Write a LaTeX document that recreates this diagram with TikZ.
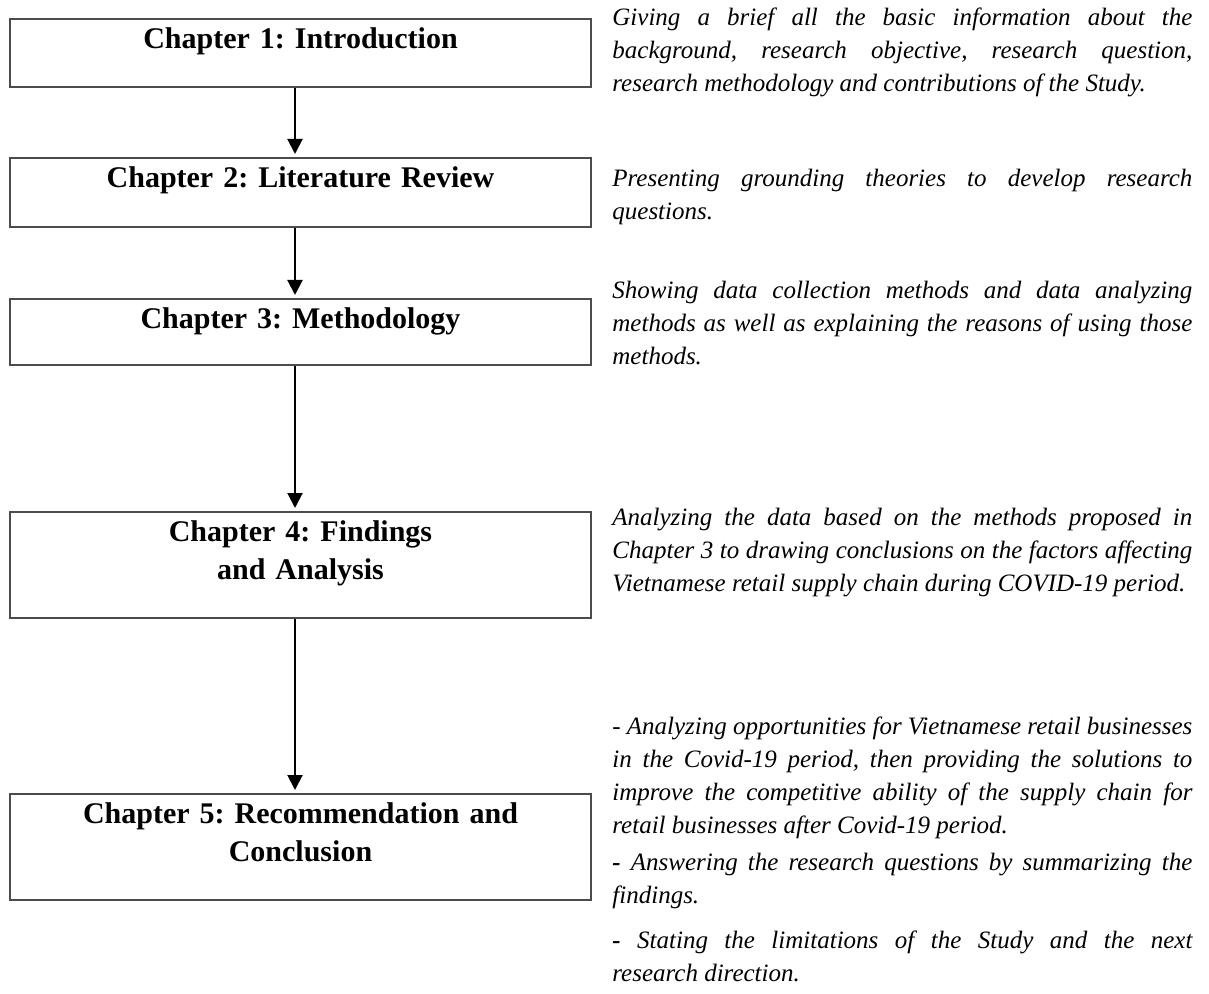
\documentclass[tikz,border=0pt]{standalone}
\usepackage{fontspec}
\setmainfont{Liberation Serif}
\usetikzlibrary{arrows.meta}
\frenchspacing

\tikzset{
  chapbox/.style={draw=black!70, line width=0.9pt, anchor=north, inner sep=0pt,
    text width=290.5pt, align=center, text height=15pt, text depth=#1,
    font=\bfseries\fontsize{15}{19}\selectfont},
  note/.style={anchor=base west, inner sep=0pt, text width=290pt, align=justify,
    font=\itshape\fontsize{12.5}{16.5}\selectfont},
  flow/.style={-{Triangle[length=7.5pt,width=7.5pt]}, line width=1pt, shorten >=1.5pt}
}

\begin{document}
\begin{tikzpicture}[x=0.5pt,y=-0.5pt]
  \useasboundingbox (0,0) rectangle (1209,994);
  % chapters
  \node[chapbox=19pt] (ch1) at (300.5,18) {Chapter 1: Introduction};
  \node[chapbox=19.5pt] (ch2) at (300.5,157) {Chapter 2: Literature Review};
  \node[chapbox=18pt] (ch3) at (300.5,298) {Chapter 3: Methodology};
  \node[chapbox=38pt] (ch4) at (300.5,511) {Chapter 4: Findings\\and Analysis};
  \node[chapbox=38pt] (ch5) at (300.5,793) {Chapter 5: Recommendation and\\Conclusion};
  % arrows
  \foreach \a/\b in {ch1/ch2,ch2/ch3,ch3/ch4,ch4/ch5}
    \draw[flow] ([xshift=-2.75pt]\a.south) -- ([xshift=-2.75pt]\b.north);
  % notes
  \node[note] (n1) at (612,26) {Giving a brief all the basic information about the\linebreak
    background, research objective, research question,\linebreak
    research methodology and contributions of the Study.};
  \node[note] (n2) at (612,187) {Presenting grounding theories to develop research\linebreak
    questions.};
  \node[note] (n3) at (612,299) {Showing data collection methods and data analyzing\linebreak
    methods as well as explaining the reasons of using those\linebreak
    methods.};
  \node[note] (n4) at (612,525) {Analyzing the data based on the methods proposed in\linebreak
    Chapter 3 to drawing conclusions on the factors affecting\linebreak
    Vietnamese retail supply chain during COVID-19 period.};
  \node[note] (n5) at (612,734) {- Analyzing opportunities for Vietnamese retail businesses\linebreak
    in the Covid-19 period, then providing the solutions to\linebreak
    improve the competitive ability of the supply chain for\linebreak
    retail businesses after Covid-19 period.};
  \node[note] (n6) at (612,870) {\textbf{-} Answering the research questions by summarizing the\linebreak
    findings.};
  \node[note] (n7) at (612,948) {\textbf{-} Stating the limitations of the Study and the next\linebreak
    research direction.};
\end{tikzpicture}
\end{document}
